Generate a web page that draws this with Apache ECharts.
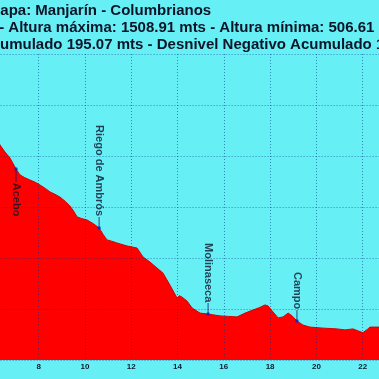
<!DOCTYPE html>
<html>
<head>
<meta charset="utf-8">
<script src="https://cdn.jsdelivr.net/npm/echarts@6/dist/echarts.min.js"></script>
<style>html,body{margin:0;padding:0;background:#66f0f6;}#c{width:379px;height:379px;}</style>
</head>
<body>
<div id="c"></div>
<script>
// Profile distance (km) and altitude (m)
const distKm = [6.25, 6.33, 6.54, 6.76, 7.02, 7.19, 7.40, 7.62, 7.85, 8.06, 8.30, 8.49, 8.70, 8.92, 9.15, 9.35, 9.50, 9.66, 9.85, 10.09, 10.35, 10.61, 10.78, 10.95, 11.15, 11.38, 11.60, 11.82, 12.05, 12.25, 12.51, 12.81, 13.11, 13.37, 13.67, 13.98, 14.08, 14.19, 14.41, 14.63, 14.97, 15.32, 15.84, 16.20, 16.57, 16.92, 17.26, 17.55, 17.78, 17.91, 18.13, 18.35, 18.56, 18.78, 18.95, 19.16, 19.42, 19.72, 20.29, 20.89, 21.24, 21.58, 22.01, 22.20, 22.32, 22.71, 22.80];
const altM = [1258, 1243, 1216, 1192, 1149, 1126, 1115, 1106, 1097, 1086, 1072, 1059, 1050, 1039, 1022, 1004, 985, 961, 955, 949, 935, 918, 893, 871, 866, 859, 853, 847, 843, 839, 804, 784, 761, 741, 694, 643, 652, 647, 631, 604, 584, 580, 573, 571, 569, 584, 596, 606, 616, 612, 588, 565, 569, 584, 573, 553, 537, 529, 525, 522, 518, 522, 507, 520, 529, 529, 529];

// Towns along the stage
const townNames = ['Acebo', 'Riego de Ambrós', 'Molinaseca', 'Campo'];
const townKm = [7.02, 10.61, 15.32, 19.16];
const townAlt = [1149, 918, 580, 553];
const townBelow = [true, false, false, false];

// Axis ranges
const xMin = 0, xMax = 24, xStep = 2;
const yMin = 400, yMax = 1600, yStep = 200;

// Header text lines (as visible in the crop)
const titleLines = [
  'Etapa: Manjarín - Columbrianos',
  '- Altura máxima: 1508.91 mts - Altura mínima: 506.61 mts',
  'Desnivel Positivo Acumulado 195.07 mts - Desnivel Negativo Acumulado 1'
];
const titleHiddenPrefix = ['Et', '', 'Desnivel Positivo Ac'];

const titleFont = 'bold 15px "Liberation Sans", Arial, sans-serif';
const ctx = document.createElement('canvas').getContext('2d');
ctx.font = titleFont;
const titleX = [0.3, -0.8, 0];
const titleY = [10.5, 27.5, 44.5];

const chart = echarts.init(document.getElementById('c'), null, {renderer: 'canvas'});

const profile = distKm.map((d, i) => [d, altM[i]]);
const markers = townKm.map((d, i) => ({
  value: [d, townAlt[i]],
  label: townBelow[i]
    ? {position: 'bottom', distance: 12, align: 'left', verticalAlign: 'middle'}
    : {position: 'top', distance: 10, align: 'right', verticalAlign: 'middle'}
}));
const leaders = townKm.map((d, i) => ({
  value: [d, townAlt[i]],
  symbolSize: townBelow[i] ? [1, 13] : [1, 11],
  symbolOffset: townBelow[i] ? [0, 6.5] : [0, -5.5]
}));

const gridLine = {show: true, lineStyle: {type: [1, 2], color: 'rgba(0,50,130,0.55)', width: 1}};

const option = {
  animation: false,
  backgroundColor: '#66f0f6',
  graphic: titleLines.map((t, i) => ({
    type: 'text',
    x: titleX[i] - (titleHiddenPrefix[i] ? ctx.measureText(titleHiddenPrefix[i]).width : 0),
    y: titleY[i],
    z: 10,
    style: {
      text: t,
      font: titleFont,
      fill: '#0c1428',
      textAlign: 'left',
      textVerticalAlign: 'middle'
    }
  })),
  grid: {
    left: 38.7 - 8 * 23.14,
    width: (xMax - xMin) * 23.14,
    top: 54,
    height: 306,
    containLabel: false,
    outerBoundsMode: 'none'
  },
  xAxis: {
    type: 'value',
    min: xMin, max: xMax, interval: xStep,
    z: 3,
    axisLine: {show: false},
    axisTick: {show: false},
    axisLabel: {
      show: true, margin: 3,
      color: '#10182c',
      fontFamily: '"Liberation Sans", Arial, sans-serif',
      fontWeight: 'bold', fontSize: 8
    },
    splitLine: gridLine
  },
  yAxis: {
    type: 'value',
    min: yMin, max: yMax, interval: yStep,
    z: 3,
    axisLine: {show: false},
    axisTick: {show: false},
    axisLabel: {show: false},
    splitLine: gridLine
  },
  series: [
    {
      type: 'line',
      data: profile,
      symbol: 'none',
      z: 2,
      lineStyle: {color: '#d40000', width: 1},
      areaStyle: {color: '#ff0000', opacity: 1, origin: 'start'},
      silent: true
    },
    {
      type: 'scatter',
      data: leaders,
      symbol: 'rect',
      z: 4,
      itemStyle: {color: '#1a1a66'},
      silent: true
    },
    {
      type: 'scatter',
      data: markers,
      symbol: 'circle',
      symbolSize: 3.5,
      z: 5,
      itemStyle: {color: '#1020d0'},
      label: {
        show: true,
        rotate: -90,
        formatter: (p) => townNames[p.dataIndex],
        color: '#10142a',
        fontFamily: '"Liberation Sans", Arial, sans-serif',
        fontWeight: 'bold',
        fontSize: 11
      },
      silent: true
    }
  ]
};
chart.setOption(option);
</script>
</body>
</html>
